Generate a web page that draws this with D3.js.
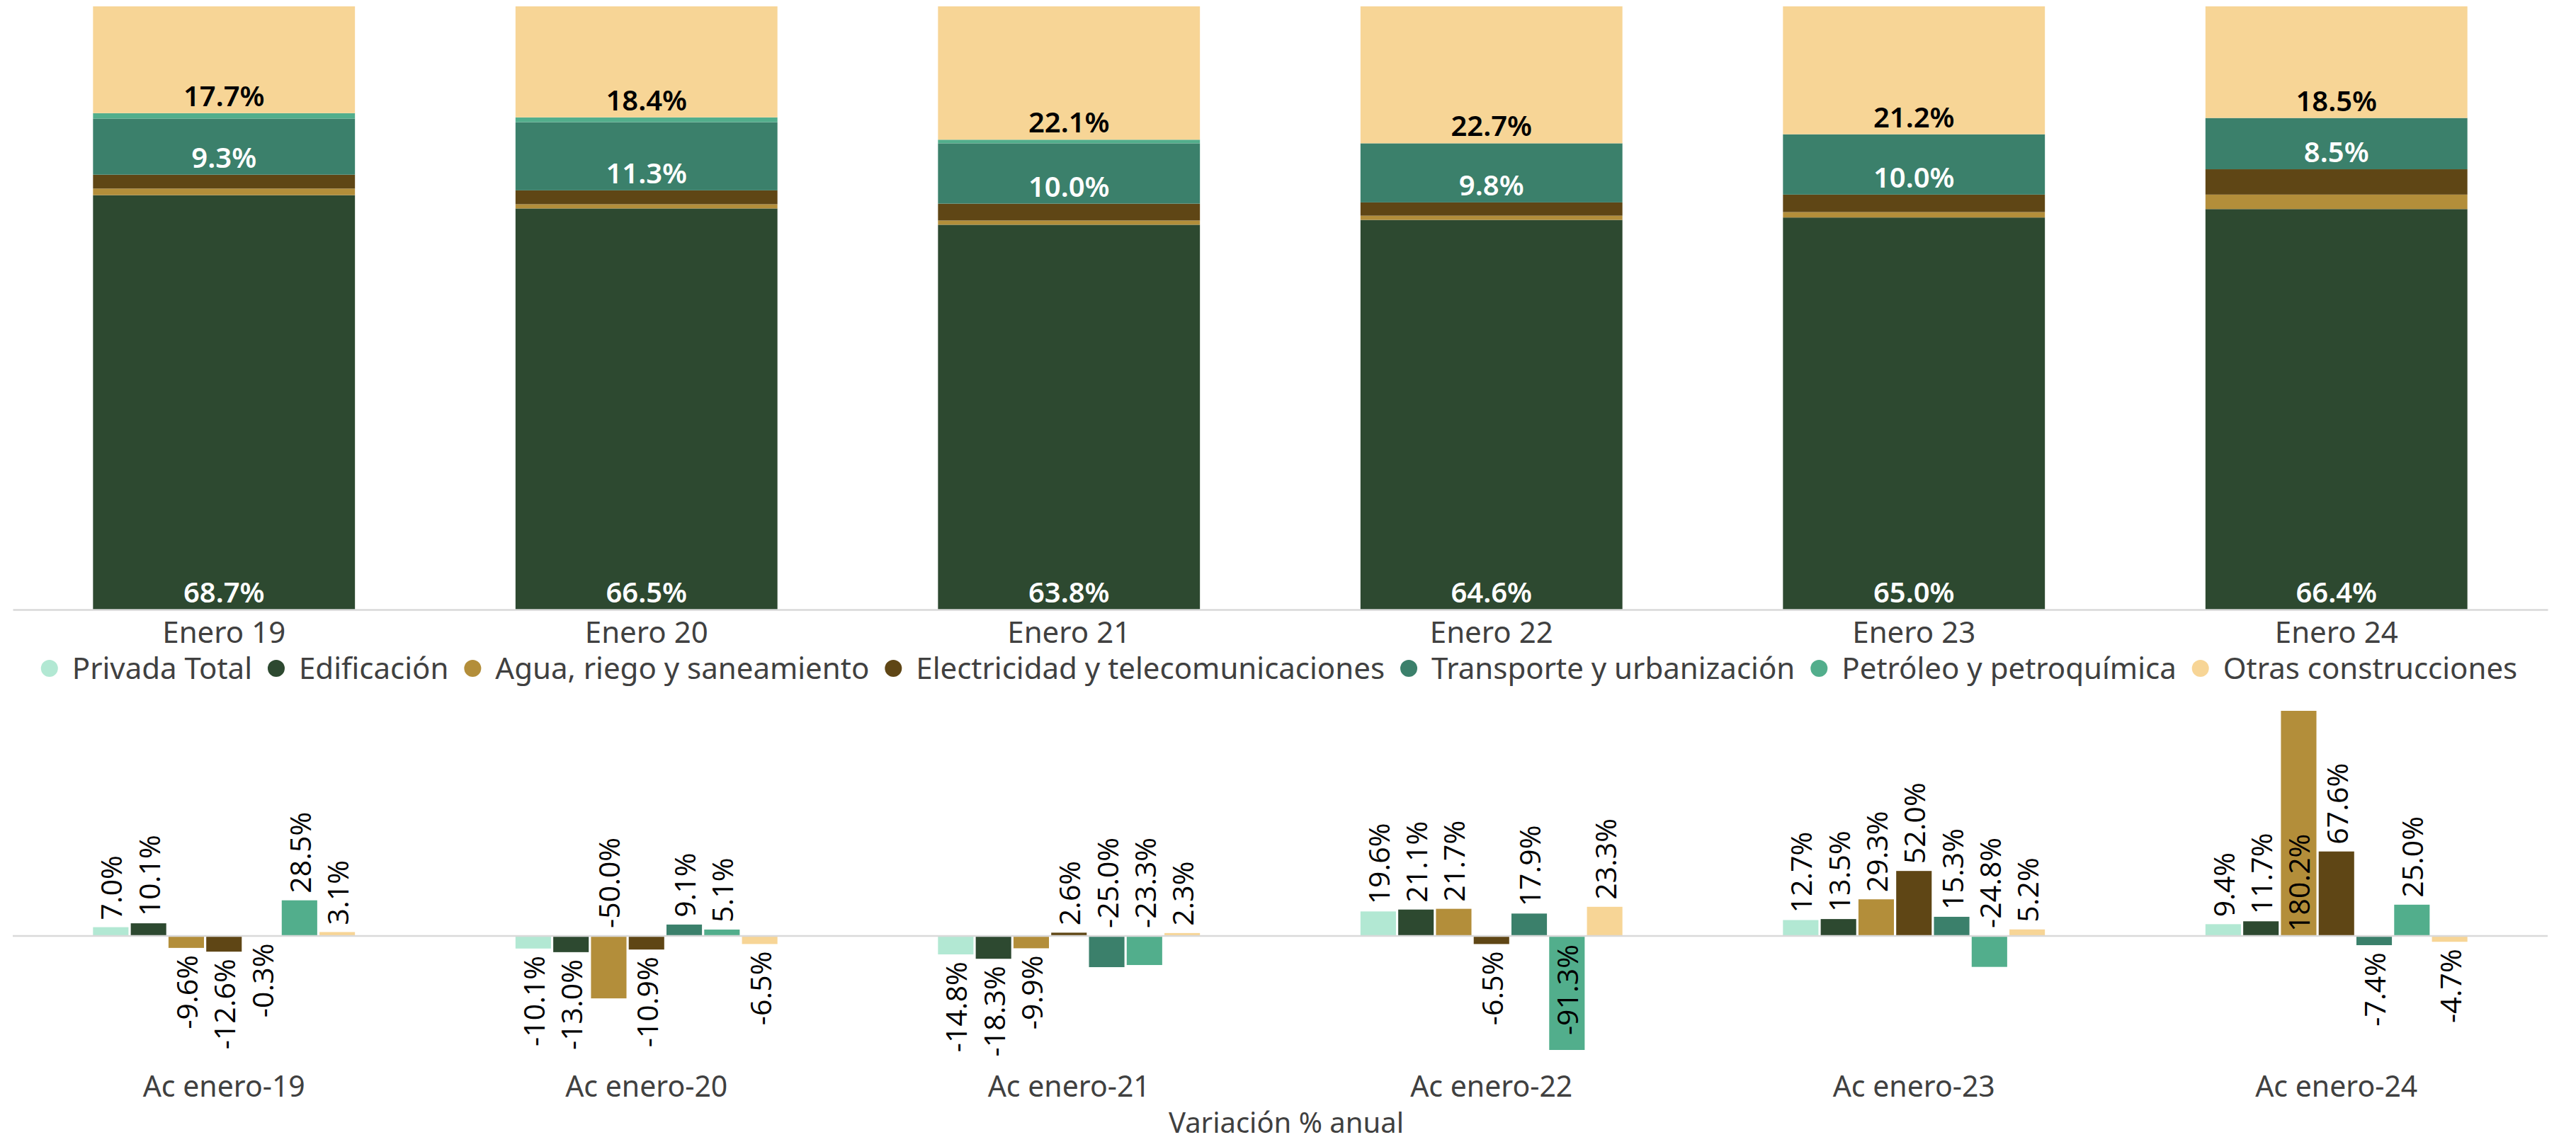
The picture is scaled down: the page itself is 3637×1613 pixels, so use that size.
<!DOCTYPE html>
<html>
<head>
<meta charset="utf-8">
<script src="https://cdn.jsdelivr.net/npm/d3@7"></script>
<style>
  html, body { margin: 0; padding: 0; background: #ffffff; }
  svg { display: block; font-family: "Noto Sans", "Open Sans", sans-serif; }
</style>
</head>
<body>
<svg id="chart" width="3637" height="1613"></svg>
<script>
// ---------- DATA ----------
const categories = ["Enero 19", "Enero 20", "Enero 21", "Enero 22", "Enero 23", "Enero 24"];
const seriesNames = ["Privada Total", "Edificación", "Agua, riego y saneamiento",
  "Electricidad y telecomunicaciones", "Transporte y urbanización",
  "Petróleo y petroquímica", "Otras construcciones"];

// Participación % (stacked, top chart) — order bottom to top
const edificacionShare  = [68.7, 66.5, 63.8, 64.6, 65.0, 66.4];
const aguaShare         = [1.1, 0.7, 0.7, 0.7, 0.9, 2.4];
const electricidadShare = [2.3, 2.3, 2.8, 2.2, 2.9, 4.2];
const transporteShare   = [9.3, 11.3, 10.0, 9.8, 10.0, 8.5];
const petroleoShare     = [0.9, 0.8, 0.6, 0.0, 0.0, 0.0];
const otrasShare        = [17.7, 18.4, 22.1, 22.7, 21.2, 18.5];

// Variación % anual (bottom chart)
const variationGroups = ["Ac enero-19", "Ac enero-20", "Ac enero-21", "Ac enero-22", "Ac enero-23", "Ac enero-24"];
const privadaVar      = [7.0, -10.1, -14.8, 19.6, 12.7, 9.4];
const edificacionVar  = [10.1, -13.0, -18.3, 21.1, 13.5, 11.7];
const aguaVar         = [-9.6, -50.0, -9.9, 21.7, 29.3, 180.2];
const electricidadVar = [-12.6, -10.9, 2.6, -6.5, 52.0, 67.6];
const transporteVar   = [-0.3, 9.1, -25.0, 17.9, 15.3, -7.4];
const petroleoVar     = [28.5, 5.1, -23.3, -91.3, -24.8, 25.0];
const otrasVar        = [3.1, -6.5, 2.3, 23.3, 5.2, -4.7];

const bottomTitle = "Variación % anual";

// ---------- STYLE ----------
const seriesColors = ["#b2e8d3", "#2d4930", "#b38e3a", "#5f4615", "#3b806b", "#52ae8c", "#f7d596"];
const color = d3.scaleOrdinal().domain(seriesNames).range(seriesColors);
const textGray = "#404040";
const axisGray = "#d9d9d9";
const W = 3637, H = 1613;

const svg = d3.select("#chart");
svg.append("rect").attr("width", W).attr("height", H).attr("fill", "#fff");

const fmt = v => (v < 0 ? "-" : "") + Math.abs(v).toFixed(1) + "%";
const isDark = c => d3.hsl(c).l < 0.5;

// ---------- TOP: stacked 100% ----------
const stackKeys = seriesNames.slice(1);
const shareArrays = [edificacionShare, aguaShare, electricidadShare, transporteShare, petroleoShare, otrasShare];
const topRows = categories.map((c, i) => {
  const r = { cat: c };
  stackKeys.forEach((k, j) => r[k] = shareArrays[j][i]);
  return r;
});

const x = d3.scaleBand().domain(categories).range([18, 3597]).paddingInner(0.38).paddingOuter(0.19);
const yTop = d3.scaleLinear().domain([0, 100]).range([861, 9]);

const stacked = d3.stack().keys(stackKeys)(topRows);

const gTop = svg.append("g");
const layers = gTop.selectAll("g.layer").data(stacked).join("g")
  .attr("class", "layer").attr("fill", d => color(d.key));
layers.selectAll("rect").data(d => d.map(p => ({ p, key: d.key }))).join("rect")
  .attr("x", d => x(d.p.data.cat))
  .attr("width", x.bandwidth())
  .attr("y", d => yTop(d.p[1]))
  .attr("height", d => Math.max(0, yTop(d.p[0]) - yTop(d.p[1])));

// segment labels (inside base)
layers.selectAll("text").data(d => d.map(p => ({ p, key: d.key })).filter(e => e.p[1] - e.p[0] >= 5)).join("text")
  .attr("x", d => x(d.p.data.cat) + x.bandwidth() / 2)
  .attr("y", d => yTop(d.p[0]) - 10)
  .attr("text-anchor", "middle")
  .attr("font-size", 40)
  .attr("font-weight", 600)
  .attr("fill", d => isDark(color(d.key)) ? "#ffffff" : "#000000")
  .text(d => fmt(d.p[1] - d.p[0]));

// top axis
const xAxisTop = gTop.append("g").attr("transform", `translate(0,${yTop(0)})`)
  .call(d3.axisBottom(x).tickSize(0).tickPadding(17));
xAxisTop.select(".domain").attr("stroke", axisGray).attr("stroke-width", 2.5);
xAxisTop.selectAll(".tick text").attr("font-size", 42).attr("fill", textGray)
  .attr("font-family", "'Noto Sans', sans-serif").attr("dy", "0.71em");

// ---------- LEGEND ----------
const legend = svg.append("g").attr("transform", "translate(0,944)");
const items = legend.selectAll("g").data(seriesNames).join("g");
items.append("circle").attr("r", 12).attr("cx", 12).attr("cy", 0).attr("fill", d => color(d));
items.append("text").attr("x", 44).attr("y", 0).attr("dy", "0.35em")
  .attr("font-size", 42).attr("fill", textGray).text(d => d);
const widths = [];
items.each(function () {
  widths.push(44 + d3.select(this).select("text").node().getComputedTextLength());
});
const gapItem = 22;
const total = d3.sum(widths) + gapItem * (widths.length - 1);
let cursor = 1806 - total / 2;
items.attr("transform", (d, i) => {
  const t = `translate(${cursor},0)`;
  cursor += widths[i] + gapItem;
  return t;
});

// ---------- BOTTOM: grouped variation ----------
const varArrays = [privadaVar, edificacionVar, aguaVar, electricidadVar, transporteVar, petroleoVar, otrasVar];
const xB = d3.scaleBand().domain(variationGroups).range([18, 3597]).paddingInner(0.38).paddingOuter(0.19);
const xSub = d3.scaleBand().domain(seriesNames).range([0, xB.bandwidth()]).paddingInner(0.06).paddingOuter(0);
const allVals = varArrays.flat();
const yB = d3.scaleLinear().domain([d3.min(allVals), d3.max(allVals)]).range([1483, 1004]);
const zeroY = yB(0);
const plotTop = 985, plotBottom = 1497;

const gB = svg.append("g");
const bars = [];
variationGroups.forEach((g, i) => {
  seriesNames.forEach((s, j) => bars.push({ group: g, key: s, v: varArrays[j][i] }));
});

gB.selectAll("rect").data(bars).join("rect")
  .attr("x", d => xB(d.group) + xSub(d.key))
  .attr("width", xSub.bandwidth())
  .attr("y", d => d.v >= 0 ? yB(d.v) : zeroY)
  .attr("height", d => Math.abs(yB(d.v) - zeroY))
  .attr("fill", d => color(d.key));

// zero line
gB.append("line").attr("x1", 18).attr("x2", 3597).attr("y1", zeroY).attr("y2", zeroY)
  .attr("stroke", axisGray).attr("stroke-width", 2.5);

// rotated labels
const labels = gB.selectAll("text.val").data(bars).join("text")
  .attr("class", "val")
  .attr("font-size", 41)
  .attr("font-weight", 500)
  .attr("font-family", "'Open Sans', 'Noto Sans', sans-serif")
  .attr("fill", "#000")
  .attr("dominant-baseline", "central")
  .text(d => fmt(d.v));

labels.each(function (d) {
  const len = this.getComputedTextLength();
  const cx = xB(d.group) + xSub(d.key) + xSub.bandwidth() / 2;
  const barLen = Math.abs(yB(d.v) - zeroY);
  let y, anchor;
  if (d.v >= 0) {
    const top = yB(d.v) - 10 - len;
    if (top >= plotTop) { y = yB(d.v) - 10; anchor = "start"; }
    else { y = zeroY - 6; anchor = "start"; }
  } else {
    const bottom = yB(d.v) + 10 + len;
    if (bottom <= plotBottom) { y = yB(d.v) + 10; anchor = "end"; }
    else if (barLen > len + 24) { y = zeroY + 12; anchor = "end"; }
    else { y = zeroY - 11; anchor = "start"; }
  }
  d3.select(this).attr("text-anchor", anchor)
    .attr("transform", `translate(${cx},${y}) rotate(-90)`);
});

// group axis labels
const xAxisB = gB.append("g").attr("transform", "translate(0,1535)")
  .call(d3.axisBottom(xB).tickSize(0).tickPadding(0));
xAxisB.select(".domain").remove();
xAxisB.selectAll(".tick text").attr("font-size", 41).attr("fill", textGray)
  .attr("font-family", "'Noto Sans', sans-serif").attr("dy", "0.35em").attr("y", 0);

svg.append("text").attr("x", 1816).attr("y", 1586).attr("dy", "0.35em")
  .attr("text-anchor", "middle").attr("font-size", 40).attr("fill", textGray)
  .text(bottomTitle);
</script>
</body>
</html>
